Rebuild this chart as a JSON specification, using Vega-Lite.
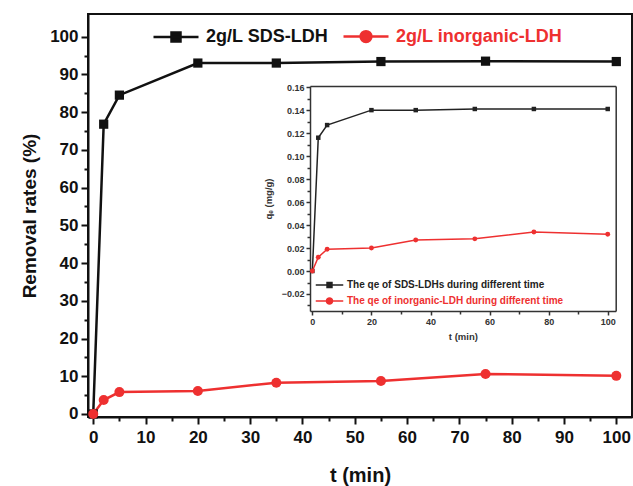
{
  "$schema": "https://vega.github.io/schema/vega-lite/v6.json",
  "width": 544,
  "height": 403,
  "autosize": {"type": "none"},
  "padding": {"left": 88, "top": 14, "right": 1, "bottom": 69},
  "background": "white",
  "config": {
    "font": "Liberation Sans",
    "view": {"stroke": "#111111", "strokeWidth": 2},
    "axis": {"grid": false, "labelFont": "Liberation Sans", "titleFont": "Liberation Sans", "labelFontWeight": "bold", "titleFontWeight": "bold", "labelFlush": false, "labelOverlap": false, "labelBound": false}
  },
  "datasets": {
    "main": [
      {"t": 0, "rate": 0, "series": "2g/L SDS-LDH"},
      {"t": 2, "rate": 76.8, "series": "2g/L SDS-LDH"},
      {"t": 5, "rate": 84.5, "series": "2g/L SDS-LDH"},
      {"t": 20, "rate": 93.0, "series": "2g/L SDS-LDH"},
      {"t": 35, "rate": 93.0, "series": "2g/L SDS-LDH"},
      {"t": 55, "rate": 93.4, "series": "2g/L SDS-LDH"},
      {"t": 75, "rate": 93.5, "series": "2g/L SDS-LDH"},
      {"t": 100, "rate": 93.4, "series": "2g/L SDS-LDH"},
      {"t": 0, "rate": 0, "series": "2g/L inorganic-LDH"},
      {"t": 2, "rate": 3.7, "series": "2g/L inorganic-LDH"},
      {"t": 5, "rate": 5.8, "series": "2g/L inorganic-LDH"},
      {"t": 20, "rate": 6.1, "series": "2g/L inorganic-LDH"},
      {"t": 35, "rate": 8.3, "series": "2g/L inorganic-LDH"},
      {"t": 55, "rate": 8.75, "series": "2g/L inorganic-LDH"},
      {"t": 75, "rate": 10.6, "series": "2g/L inorganic-LDH"},
      {"t": 100, "rate": 10.1, "series": "2g/L inorganic-LDH"}
    ],
    "inset": [
      {"t": 0, "qe": 0, "series": "The qe of SDS-LDHs during different time"},
      {"t": 2, "qe": 0.116, "series": "The qe of SDS-LDHs during different time"},
      {"t": 5, "qe": 0.127, "series": "The qe of SDS-LDHs during different time"},
      {"t": 20, "qe": 0.140, "series": "The qe of SDS-LDHs during different time"},
      {"t": 35, "qe": 0.140, "series": "The qe of SDS-LDHs during different time"},
      {"t": 55, "qe": 0.141, "series": "The qe of SDS-LDHs during different time"},
      {"t": 75, "qe": 0.141, "series": "The qe of SDS-LDHs during different time"},
      {"t": 100, "qe": 0.141, "series": "The qe of SDS-LDHs during different time"},
      {"t": 0, "qe": 0, "series": "The qe of inorganic-LDH during different time"},
      {"t": 2, "qe": 0.012, "series": "The qe of inorganic-LDH during different time"},
      {"t": 5, "qe": 0.019, "series": "The qe of inorganic-LDH during different time"},
      {"t": 20, "qe": 0.020, "series": "The qe of inorganic-LDH during different time"},
      {"t": 35, "qe": 0.027, "series": "The qe of inorganic-LDH during different time"},
      {"t": 55, "qe": 0.028, "series": "The qe of inorganic-LDH during different time"},
      {"t": 75, "qe": 0.034, "series": "The qe of inorganic-LDH during different time"},
      {"t": 100, "qe": 0.032, "series": "The qe of inorganic-LDH during different time"}
    ]
  },
  "layer": [
    {
      "data": {"name": "main"},
      "encoding": {
        "x": {
          "field": "t", "type": "quantitative",
          "scale": {"domain": [-1, 103], "zero": false, "nice": false},
          "axis": {
            "values": [0, 5, 10, 15, 20, 25, 30, 35, 40, 45, 50, 55, 60, 65, 70, 75, 80, 85, 90, 95, 100],
            "labelExpr": "datum.value % 10 === 0 ? datum.label : ''",
            "tickSize": {"condition": {"test": "datum.value % 10 === 0", "value": 7}, "value": 4},
            "tickWidth": 2, "tickColor": "#111111", "domainWidth": 2, "domainColor": "#111111",
            "labelFontSize": 17, "labelColor": "#111111", "labelPadding": 5,
            "title": "t (min)", "titleFontSize": 20, "titleColor": "#111111", "titlePadding": 20
          }
        },
        "y": {
          "field": "rate", "type": "quantitative",
          "scale": {"domain": [-0.8, 106], "zero": false, "nice": false},
          "axis": {
            "values": [0, 5, 10, 15, 20, 25, 30, 35, 40, 45, 50, 55, 60, 65, 70, 75, 80, 85, 90, 95, 100],
            "labelExpr": "datum.value % 10 === 0 ? datum.label : ''",
            "tickSize": {"condition": {"test": "datum.value % 10 === 0", "value": 7}, "value": 4},
            "tickWidth": 2, "tickColor": "#111111", "domainWidth": 2, "domainColor": "#111111",
            "labelFontSize": 17, "labelColor": "#111111", "labelPadding": 3,
            "title": "Removal rates (%)", "titleFontSize": 19, "titleColor": "#111111", "titlePadding": 10
          }
        }
      },
      "layer": [
        {
          "mark": {"type": "line", "strokeWidth": 2.5},
          "encoding": {
            "color": {
              "field": "series", "type": "nominal",
              "scale": {"domain": ["2g/L SDS-LDH", "2g/L inorganic-LDH"], "range": ["#111111", "#ee3030"]},
              "legend": {
                "title": null, "orient": "none", "direction": "horizontal",
                "legendX": 77.5, "legendY": 12, "padding": 0,
                "symbolSize": 324, "labelOffset": 19.5, "columnPadding": 10, "labelLimit": 400,
                "labelFontSize": 18, "labelFontWeight": "bold", "labelFont": "Liberation Sans",
                "symbolType": {"expr": "indexof(datum.value, 'SDS') >= 0 ? 'M-2.5,0H2.5M-0.5,-0.5H0.5V0.5H-0.5Z' : 'M-2.5,0H2.5M0.6,0A0.6,0.6,0,1,1,-0.6,0A0.6,0.6,0,1,1,0.6,0Z'"},
                "symbolFillColor": {"expr": "indexof(datum.value, 'SDS') >= 0 ? '#111111' : '#ee3030'"},
                "symbolStrokeColor": {"expr": "indexof(datum.value, 'SDS') >= 0 ? '#111111' : '#ee3030'"},
                "symbolStrokeWidth": 2.5,
                "symbolOpacity": 1,
                "labelColor": {"expr": "indexof(datum.value, 'SDS') >= 0 ? '#111111' : '#ee3030'"}
              }
            }
          }
        },
        {
          "transform": [{"filter": "indexof(datum.series, 'SDS') >= 0"}],
          "mark": {"type": "point", "filled": true, "opacity": 1, "shape": "square", "color": "#111111", "size": 85}
        },
        {
          "transform": [{"filter": "indexof(datum.series, 'SDS') < 0"}],
          "mark": {"type": "point", "filled": true, "opacity": 1, "shape": "circle", "color": "#ee3030", "size": 100}
        }
      ]
    },
    {
      "data": {"name": "inset"},
      "layer": [
        {
          "mark": {"type": "line", "strokeWidth": 1.5},
          "encoding": {
            "x": {
              "field": "t", "type": "quantitative",
              "scale": {"domain": [-0.8, 102.7], "range": [222, 527.7], "zero": false, "nice": false},
              "axis": {
                "orient": "bottom", "offset": -106,
                "values": [0, 10, 20, 30, 40, 50, 60, 70, 80, 90, 100],
                "labelExpr": "datum.value % 20 === 0 ? datum.label : ''",
                "tickSize": {"condition": {"test": "datum.value % 20 === 0", "value": 4}, "value": 3},
                "tickWidth": 1.5, "tickColor": "#333333", "domainWidth": 1.5, "domainColor": "#333333",
                "labelFontSize": 9, "labelColor": "#333333", "labelPadding": 2,
                "title": "t (min)", "titleFontSize": 9.5, "titleColor": "#333333", "titlePadding": 5
              }
            },
            "y": {
              "field": "qe", "type": "quantitative",
              "scale": {"domain": [-0.0348, 0.161], "range": [297, 72], "zero": false, "nice": false},
              "axis": {
                "orient": "left", "offset": -222,
                "values": [-0.03, -0.02, -0.01, 0, 0.01, 0.02, 0.03, 0.04, 0.05, 0.06, 0.07, 0.08, 0.09, 0.1, 0.11, 0.12, 0.13, 0.14, 0.15, 0.16],
                "labelExpr": "round(datum.value * 100) % 2 === 0 ? format(datum.value, '.2f') : ''",
                "tickSize": {"condition": {"test": "round(datum.value * 100) % 2 === 0", "value": 4}, "value": 3},
                "tickWidth": 1.5, "tickColor": "#333333", "domainWidth": 1.5, "domainColor": "#333333",
                "labelFontSize": 9, "labelColor": "#333333", "labelPadding": 2,
                "title": "qₑ (mg/g)", "titleFontSize": 9.5, "titleColor": "#333333", "titlePadding": 8
              }
            },
            "color": {
              "field": "series", "type": "nominal",
              "scale": {"domain": ["The qe of SDS-LDHs during different time", "The qe of inorganic-LDH during different time"], "range": ["#222222", "#ee3030"]},
              "legend": {
                "title": null, "orient": "none", "direction": "vertical",
                "legendX": 235, "legendY": 264.5, "padding": 0,
                "symbolSize": 121, "labelOffset": 11, "rowPadding": 4,
                "labelFontSize": 10, "labelFontWeight": "bold", "labelFont": "Liberation Sans", "labelLimit": 400,
                "symbolType": {"expr": "indexof(datum.value, 'SDS') >= 0 ? 'M-2.5,0H2.5M-0.45,-0.45H0.45V0.45H-0.45Z' : 'M-2.5,0H2.5M0.55,0A0.55,0.55,0,1,1,-0.55,0A0.55,0.55,0,1,1,0.55,0Z'"},
                "symbolFillColor": {"expr": "indexof(datum.value, 'SDS') >= 0 ? '#222222' : '#ee3030'"},
                "symbolStrokeColor": {"expr": "indexof(datum.value, 'SDS') >= 0 ? '#222222' : '#ee3030'"},
                "symbolStrokeWidth": 1.5,
                "symbolOpacity": 1,
                "labelColor": {"expr": "indexof(datum.value, 'SDS') >= 0 ? '#222222' : '#ee3030'"}
              }
            }
          }
        },
        {
          "transform": [{"filter": "indexof(datum.series, 'SDS') >= 0"}],
          "mark": {"type": "point", "filled": true, "opacity": 1, "shape": "square", "color": "#222222", "size": 20},
          "encoding": {
            "x": {
              "field": "t", "type": "quantitative",
              "scale": {"domain": [-0.8, 102.7], "range": [222, 527.7], "zero": false, "nice": false},
              "axis": {"orient": "top", "offset": -72, "labels": false, "ticks": false, "domainWidth": 1.5, "domainColor": "#333333", "title": null}
            },
            "y": {
              "field": "qe", "type": "quantitative",
              "scale": {"domain": [-0.0348, 0.161], "range": [297, 72], "zero": false, "nice": false},
              "axis": {"orient": "right", "offset": -16.3, "labels": false, "ticks": false, "domainWidth": 1.5, "domainColor": "#333333", "title": null}
            }
          }
        },
        {
          "transform": [{"filter": "indexof(datum.series, 'SDS') < 0"}],
          "mark": {"type": "point", "filled": true, "opacity": 1, "shape": "circle", "color": "#ee3030", "size": 24},
          "encoding": {
            "x": {
              "field": "t", "type": "quantitative",
              "scale": {"domain": [-0.8, 102.7], "range": [222, 527.7], "zero": false, "nice": false},
              "axis": null
            },
            "y": {
              "field": "qe", "type": "quantitative",
              "scale": {"domain": [-0.0348, 0.161], "range": [297, 72], "zero": false, "nice": false},
              "axis": null
            }
          }
        }
      ],
      "resolve": {"axis": {"x": "independent", "y": "independent"}}
    }
  ],
  "resolve": {
    "scale": {"x": "independent", "y": "independent", "color": "independent"},
    "axis": {"x": "independent", "y": "independent"},
    "legend": {"color": "independent"}
  }
}
